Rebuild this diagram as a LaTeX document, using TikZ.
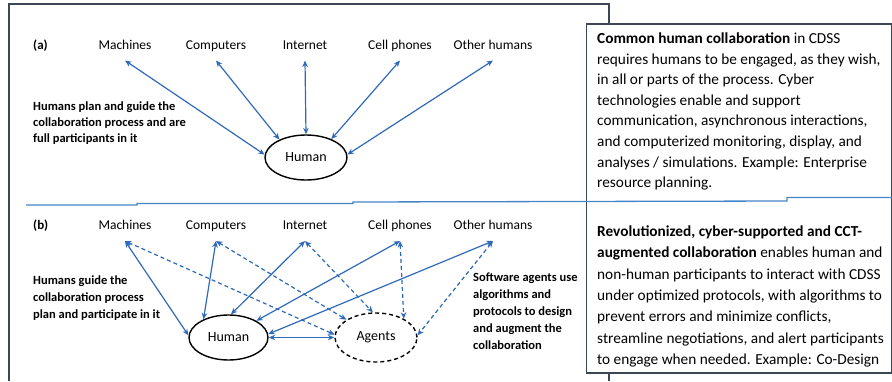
\documentclass[tikz,border=0pt]{standalone}
\usepackage{fontspec}
\setmainfont{Carlito}
\usetikzlibrary{arrows.meta,shapes.geometric}
\definecolor{arrowblue}{RGB}{47,105,185}
\definecolor{sepblue}{RGB}{70,132,200}
\definecolor{framegray}{RGB}{60,70,85}
\begin{document}
\begin{tikzpicture}[x=1pt,y=-1pt,
  lab/.style={font=\fontsize{13.5}{16}\selectfont, inner sep=0pt, text height=9.5pt, text depth=2.5pt, outer sep=9pt},
  tag/.style={font=\bfseries\fontsize{13}{15}\selectfont, inner sep=0pt, anchor=west},
  ell/.style={ellipse, draw=black, line width=1.4pt, inner sep=0pt, font=\fontsize{14}{16}\selectfont},
  dell/.style={ell, dash pattern=on 4pt off 3pt},
  conn/.style={draw=arrowblue, line width=1.2pt, {Stealth[length=6.5pt,width=5.5pt]}-{Stealth[length=6.5pt,width=5.5pt]}},
  dconn/.style={conn, dash pattern=on 4pt off 3pt},
  side/.style={font=\bfseries\fontsize{12.5}{17}\selectfont, align=left, inner sep=0pt, anchor=base west},
  boxtext/.style={font=\fontsize{15.3}{20.6}\selectfont, align=left, inner sep=0pt, anchor=base west},
  frame/.style={draw=framegray, line width=1.3pt},
]
\useasboundingbox (0,0) rectangle (892,381);
% outer frame of the diagram
\draw[frame] (609,23) -- (609,4) -- (9,4) -- (9,381);
\draw[frame] (609,372) -- (609,381);
% right text box
\node[draw=framegray, line width=1.8pt, minimum width=305pt, minimum height=349pt, inner sep=0pt, anchor=north west] (box) at (585.5,23) {};
% separator line
\draw[sepblue, line width=1.3pt] (26,205) -- (137,205) -- (137,203.5) -- (353,203.5) -- (353,202) -- (787,201) -- (787,197.5) -- (892,197.5);

% ---------- panel (a)
\node[tag] (pa) at (33,45.5) {(a)};
\node[lab] (ma) at (125,45.5) {Machines};
\node[lab] (ca) at (216,45.5) {Computers};
\node[lab] (ia) at (305,45.5) {Internet};
\node[lab] (cpa) at (400,45.5) {Cell phones};
\node[lab] (oa) at (493,45.5) {Other humans};
\node[ell, minimum width=82pt, minimum height=45pt] (ha) at (306,157.5) {Human};
\draw[conn] (ma.south) -- (ha.176);
\draw[conn] (ca.south) -- (ha.146);
\draw[conn] (ia.south) -- (ha.90);
\draw[conn] (cpa.south) -- (ha.36);
\draw[conn] (oa.south) -- (ha.4);
\node[side, font=\bfseries\fontsize{12.5}{16}\selectfont] (ta) at (33,142) {Humans plan and guide the\\collaboration process and are\\full participants in it};

% ---------- panel (b)
\node[tag] (pb) at (33,226) {(b)};
\node[lab] (mb) at (125,226) {Machines};
\node[lab] (cb) at (216,226) {Computers};
\node[lab] (ib) at (305,226) {Internet};
\node[lab] (cpb) at (400,226) {Cell phones};
\node[lab] (ob) at (493,226) {Other humans};
\node[ell, minimum width=79pt, minimum height=45pt] (hb) at (228.5,337.5) {Human};
\node[dell, minimum width=82pt, minimum height=49pt] (ag) at (376,337.5) {Agents};
\draw[conn] (mb.south) -- (hb.177);
\draw[conn] (cb.south) -- (hb.144);
\draw[conn] (ib.south) -- (hb.84);
\draw[conn] (cpb.south) -- (hb.31);
\draw[conn] (ob.south) -- (hb.5);
\draw[dconn] (mb.south) -- (ag.176);
\draw[dconn] (cb.south) -- (ag.149);
\draw[dconn] (ib.south) -- (ag.97);
\draw[dconn] (cpb.south) -- (ag.34);
\draw[dconn] (ob.south) -- (ag.3);
\draw[conn] (hb.east) -- (ag.west);
\node[side] (tb) at (33,318) {Humans guide the\\collaboration process\\plan and participate in it};
\node[side] (sb) at (473,349) {Software agents use\\algorithms and\\protocols to design\\and augment the\\collaboration};

% ---------- right box texts
\node[boxtext] (t1) at (597,187.7) {\textbf{Common human collaboration} in CDSS\\
requires humans to be engaged, as they wish,\\
in all or parts of the process. Cyber\\
technologies enable and support\\
communication, asynchronous interactions,\\
and computerized monitoring, display, and\\
analyses / simulations. Example: Enterprise\\
resource planning.};
\node[boxtext, font=\fontsize{15.3}{21.3}\selectfont] (t2) at (597,364.3) {\textbf{Revolutionized, cyber-supported and CCT-}\\
\textbf{augmented collaboration} enables human and\\
non-human participants to interact with CDSS\\
under optimized protocols, with algorithms to\\
prevent errors and minimize conflicts,\\
streamline negotiations, and alert participants\\
to engage when needed. Example: Co-Design};
\end{tikzpicture}
\end{document}
